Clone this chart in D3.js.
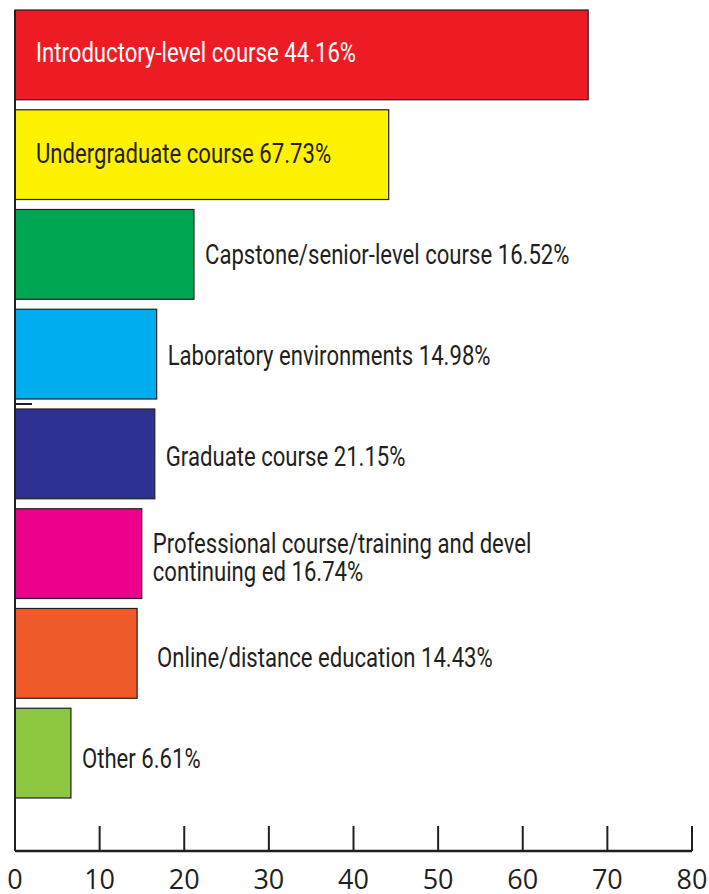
<!DOCTYPE html>
<html><head><meta charset="utf-8">
<script src="https://cdn.jsdelivr.net/npm/d3@7"></script>
<style>body{margin:0;background:#fff}</style>
</head><body>
<script>
const categories = ["Introductory-level course 44.16%","Undergraduate course 67.73%","Capstone/senior-level course 16.52%","Laboratory environments 14.98%","Graduate course 21.15%","Professional course/training and devel|continuing ed 16.74%","Online/distance education 14.43%","Other 6.61%"];
const values = [67.73, 44.16, 21.15, 16.74, 16.52, 14.98, 14.43, 6.61];
const colors = ["#ED1C24","#FFF200","#00A651","#00AEEF","#2E3192","#EC008C","#F15A29","#8DC63F"];
const ticks = [0,10,20,30,40,50,60,70,80];

const W = 709, H = 894;
const svg = d3.select("body").append("svg").attr("width", W).attr("height", H);
const x = d3.scaleLinear().domain([0, 80]).range([15, 692]);
const y = d3.scaleBand().domain(d3.range(categories.length)).range([10, 798]).paddingInner(0.1).paddingOuter(0);
// label baselines are spaced slightly wider than the bars in the original
const yl = d3.scalePoint().domain(d3.range(categories.length)).range([62.3, 768.3]);

svg.selectAll("rect.bar").data(values).join("rect").attr("class","bar")
  .attr("x", x(0)).attr("y", (d,i)=>y(i)).attr("width", d=>x(d)-x(0)).attr("height", y.bandwidth())
  .attr("fill", (d,i)=>colors[i]).attr("stroke", "#231F20").attr("stroke-width", 1.2);

const font = "Roboto, 'Liberation Sans', sans-serif";
categories.forEach((c, i) => {
  const inside = i < 2;
  const lines = c.split("|");
  const tx = inside ? 36 : x(values[i]) + (i === 6 ? 20 : 11);
  const by = yl(i);
  const lh = 28;
  const g = svg.append("g").attr("transform", `translate(${tx},${by}) scale(0.805,1)`);
  const t = g.append("text").attr("font-family", font).attr("font-size", 27.5)
    .attr("fill", i === 0 ? "#fff" : "#231F20");
  lines.forEach((l, k) => {
    t.append("tspan").attr("x", 0).attr("y", (k - (lines.length-1)/2) * lh).text(l);
  });
});

// y axis line
svg.append("line").attr("x1", x(0)).attr("x2", x(0)).attr("y1", 10).attr("y2", 851)
  .attr("stroke", "#231F20").attr("stroke-width", 2);
// small mark on y axis
svg.append("line").attr("x1", x(0)).attr("x2", 32).attr("y1", 404).attr("y2", 404)
  .attr("stroke", "#231F20").attr("stroke-width", 2);

const g = svg.append("g").attr("transform", "translate(0,851)");
g.append("line").attr("x1", x(0)).attr("x2", x(80)).attr("stroke", "#231F20").attr("stroke-width", 2.5);
g.selectAll("line.tk").data(ticks).join("line").attr("class","tk")
  .attr("x1", d=>x(d)).attr("x2", d=>x(d)).attr("y1", 0).attr("y2", -25)
  .attr("stroke", "#231F20").attr("stroke-width", 2);
g.selectAll("text.tl").data(ticks).join("text").attr("class","tl")
  .attr("x", d=>x(d)).attr("y", 38).attr("text-anchor","middle")
  .attr("font-family", "'Open Sans', sans-serif").attr("font-size", 27).attr("fill", "#231F20")
  .text(d=>d);
</script>
</body></html>
